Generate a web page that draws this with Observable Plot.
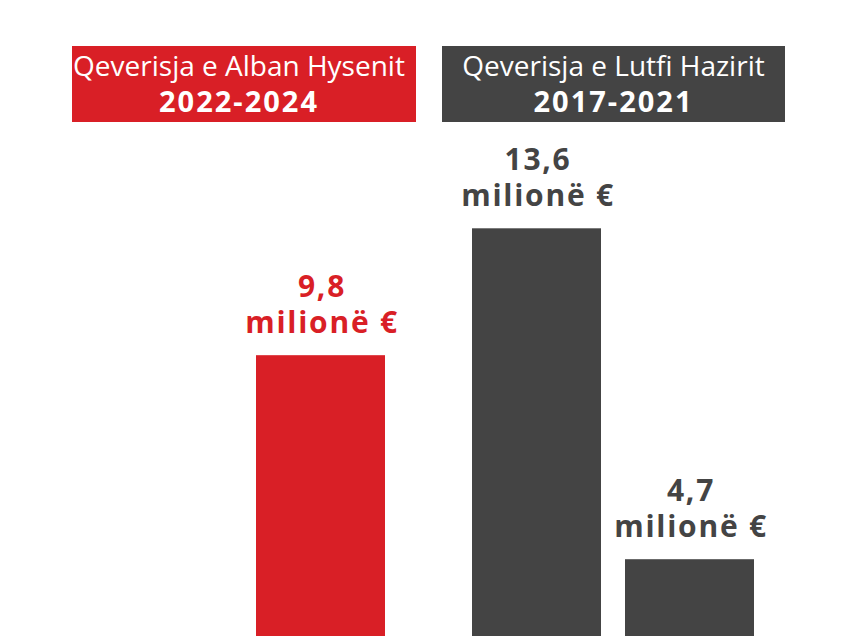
<!DOCTYPE html>
<html>
<head>
<meta charset="utf-8">
<script src="https://cdn.jsdelivr.net/npm/d3@7"></script>
<script src="https://cdn.jsdelivr.net/npm/@observablehq/plot@0.6"></script>
<style>
  html, body { margin: 0; padding: 0; background: #fff; width: 850px; height: 636px; overflow: hidden; }
  #head { position: relative; height: 130px; width: 850px; }
  .box { position: absolute; top: 46px; height: 76px; color: #fff; text-align: center;
         font-family: "Open Sans", sans-serif; box-sizing: border-box; padding-top: 1.6px; white-space: nowrap; }
  .box .l1 { font-size: 28px; font-weight: 400; line-height: 35px; }
  .box .l2 { font-size: 29px; font-weight: 700; line-height: 35px; letter-spacing: 2px; }
  #chart svg { display: block; }
  #chart svg text { letter-spacing: 1.75px; }
</style>
</head>
<body>
<div id="head"></div>
<div id="chart"></div>
<script>
// Data
const governments = ["Qeverisja e Alban Hysenit", "Qeverisja e Lutfi Hazirit"];
const periods = ["2022-2024", "2017-2021"];
const govColors = ["#d91f26", "#444444"];
const barGovernment = ["Qeverisja e Alban Hysenit", "Qeverisja e Alban Hysenit", "Qeverisja e Lutfi Hazirit", "Qeverisja e Lutfi Hazirit"];
const barSlot = ["a", "b", "a", "b"];
const values = [0.5, 9.8, 13.6, 4.7];
const unitLabel = "milionë €";

const data = values.map((v, i) => ({
  gov: barGovernment[i],
  slot: barSlot[i],
  value: v,
  label: String(v).replace(".", ",") + "\n" + unitLabel
}));

// Header boxes
const head = document.getElementById("head");
const boxLayout = [{left: 72, width: 344, padRight: 10}, {left: 442, width: 343, padRight: 0}];
governments.forEach((g, i) => {
  const b = document.createElement("div");
  b.className = "box";
  b.style.left = boxLayout[i].left + "px";
  b.style.width = boxLayout[i].width + "px";
  b.style.paddingRight = boxLayout[i].padRight + "px";
  b.style.background = govColors[i];
  b.innerHTML = `<div class="l1"></div><div class="l2"></div>`;
  b.querySelector(".l1").textContent = g;
  b.querySelector(".l2").textContent = periods[i];
  head.appendChild(b);
});

const chart = Plot.plot({
  width: 850,
  height: 506,
  marginLeft: 103,
  marginRight: 96,
  marginTop: 0,
  marginBottom: 0,
  style: {fontFamily: "'Open Sans', sans-serif", background: "#fff"},
  facet: {data, x: "gov"},
  fx: {domain: governments, paddingInner: 0.2366, paddingOuter: 0, axis: null, label: null},
  x: {domain: ["a", "b"], paddingInner: 0.159, paddingOuter: 0, axis: null},
  y: {type: "pow", exponent: 0.64, domain: [0, 13.6], range: [769, 98.3], axis: null},
  color: {domain: governments, range: govColors},
  marks: [
    Plot.barY(data, {x: "slot", y: "value", fill: "gov"}),
    Plot.text(data, {x: "slot", y: "value", text: "label", fill: "gov", lineAnchor: "bottom",
      lineHeight: 1.2, dy: -23, dx: 1, fontSize: 30, fontWeight: 700})
  ]
});
document.getElementById("chart").appendChild(chart);
</script>
</body>
</html>
